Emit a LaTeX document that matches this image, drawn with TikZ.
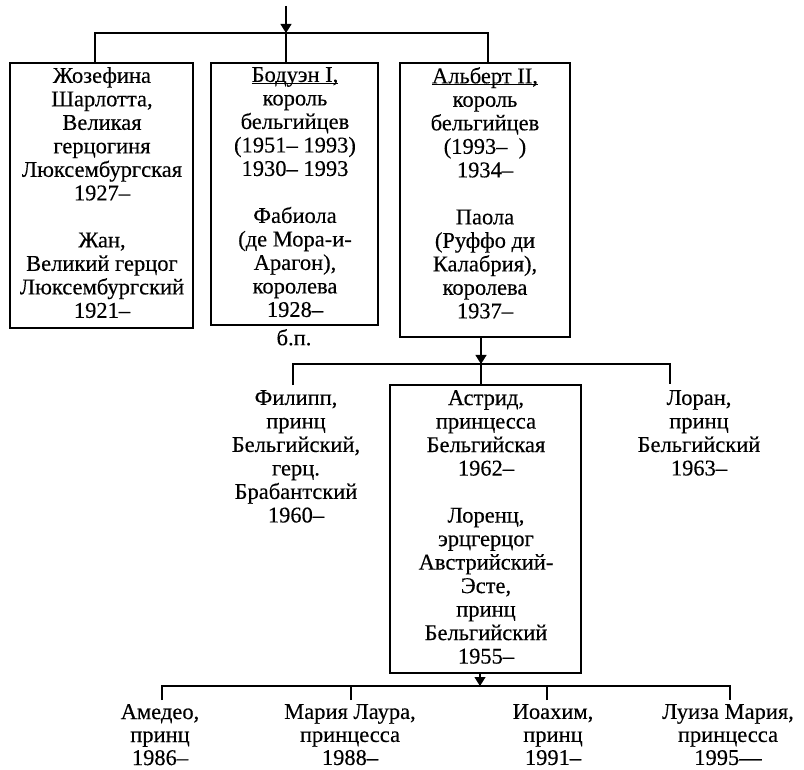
\documentclass[tikz,border=0pt]{standalone}
\usepackage{fontspec}
\setmainfont[FakeBold=0.3]{Liberation Serif}
\usetikzlibrary{arrows.meta}
\newcommand\myul[1]{\setbox0\hbox{#1}\rlap{\rule[-1.8pt]{\wd0}{1pt}}\box0}
\begin{document}
\begin{tikzpicture}[x=1pt,y=-1pt,
  box/.style={draw, line width=1.4pt, inner sep=0pt},
  txt/.style={align=center, inner sep=0pt, anchor=north,
    font=\fontsize{22.5}{23.5}\selectfont,
    execute at begin node={\rule{0pt}{17pt}}},
  ln/.style={line width=1.2pt},
  arr/.style={ln, -{Triangle[width=11pt,length=9pt]}}]
\useasboundingbox (0,0) rectangle (804,770);
% generation 1 boxes
\node[box, minimum width=183pt, minimum height=265pt] (b1) at (101.5,195.5) {};
\node[box, minimum width=167pt, minimum height=262pt] (b2) at (294.5,194) {};
\node[box, minimum width=170pt, minimum height=274pt] (b3) at (485,200) {};
\node[txt] (t1) at (102,67) {Жозефина\\Шарлотта,\\Великая\\герцогиня\\Люксембургская\\1927–\\[23.5pt]Жан,\\Великий герцог\\Люксембургский\\1921–};
\node[txt] (t2) at (295,67) {\myul{Бодуэн I,}\\король\\бельгийцев\\(1951– 1993)\\1930– 1993\\[23.5pt]Фабиола\\(де Мора-и-\\Арагон),\\королева\\1928–};
\node[txt] (bp) at (294,328) {б.п.};
\node[txt] (t3) at (485,67) {\myul{Альберт II,}\\король\\бельгийцев\\(1993–\ \ )\\1934–\\[23.5pt]Паола\\(Руффо ди\\Калабрия),\\королева\\1937–};
% generation 2
\node[box, minimum width=191pt, minimum height=288pt] (ast) at (485.5,529) {};
\node[txt] (fil) at (296,390) {Филипп,\\принц\\Бельгийский,\\герц.\\Брабантский\\1960–};
\node[txt] (ta) at (486,390) {Астрид,\\принцесса\\Бельгийская\\1962–\\[23.5pt]Лоренц,\\эрцгерцог\\Австрийский-\\Эсте,\\принц\\Бельгийский\\1955–};
\node[txt] (lor) at (699,390) {Лоран,\\принц\\Бельгийский\\1963–};
% generation 3
\node[txt, font=\fontsize{22.5}{23}\selectfont] (k1) at (160,704) {Амедео,\\принц\\1986–};
\node[txt, font=\fontsize{22.5}{23}\selectfont] (k2) at (350,704) {Мария Лаура,\\принцесса\\1988–};
\node[txt, font=\fontsize{22.5}{23}\selectfont] (k3) at (553,704) {Иоахим,\\принц\\1991–};
\node[txt, font=\fontsize{22.5}{23}\selectfont] (k4) at (728,704) {Луиза Мария,\\принцесса\\1995—};
% connectors top
\coordinate (top) at (286,6);
\coordinate (j1) at (286,33);
\coordinate (x1) at (95,0);
\coordinate (x3) at (488,0);
\draw[arr] (top) -- (j1);
\draw[ln] (b1.north -| x1) -- (x1 |- j1) -- (x3 |- j1) -- (b3.north -| x3);
\draw[ln] (j1) -- (b2.north -| j1);
% connectors middle
\coordinate (j2) at (481,364);
\coordinate (cf) at (293,385);
\coordinate (cl) at (670,384);
\draw[arr] (b3.south -| j2) -- (j2);
\draw[ln] (j2) -- (ast.north -| j2);
\draw[ln] (cf) |- (j2) -| (cl);
% connectors bottom
\coordinate (j3) at (480,686);
\coordinate (c1) at (162,700);
\coordinate (c2) at (351,700);
\coordinate (c3) at (547,700);
\coordinate (c4) at (730,700);
\draw[arr] (ast.south -| j3) -- (j3);
\draw[ln] (c1) |- (j3) -| (c4);
\draw[ln] (c2) -- (c2 |- j3);
\draw[ln] (c3) -- (c3 |- j3);
\end{tikzpicture}
\end{document}
